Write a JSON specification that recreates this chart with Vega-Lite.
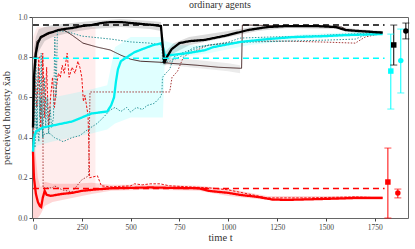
{
"$schema":"https://vega.github.io/schema/vega-lite/v6.json",
"width":376,"height":201,"autosize":{"type":"none"},
"padding":{"left":32,"top":17,"right":7,"bottom":31},
"config":{"view":{"stroke":"#666","strokeWidth":1},"font":"Liberation Serif",
 "axis":{"grid":false,"domain":false,"tickColor":"#444","tickSize":3,"labelFontSize":7.5,"labelColor":"#444","titleFontSize":10.5,"titleFontWeight":"normal","titleColor":"#333","labelFont":"Liberation Serif","titleFont":"Liberation Serif"}},
"title":{"text":"ordinary agents","fontSize":10,"font":"Liberation Serif","fontWeight":"normal","color":"#333","offset":3},
"resolve":{"scale":{"color":"independent","opacity":"independent","strokeWidth":"independent","strokeDash":"independent","shape":"independent"}},
"datasets":{
"bands":[
{"s":"rp","t":0,"lo":0.15,"hi":0.9},{"s":"rp","t":20,"lo":0.15,"hi":0.95},{"s":"rp","t":320,"lo":0.15,"hi":0.95},
{"s":"bg","t":0,"lo":0.3,"hi":0.65},{"s":"bg","t":5,"lo":0.55,"hi":0.85},{"s":"bg","t":15,"lo":0.75,"hi":0.9},{"s":"bg","t":30,"lo":0.83,"hi":0.94},{"s":"bg","t":60,"lo":0.88,"hi":0.95},{"s":"bg","t":100,"lo":0.9,"hi":0.96},{"s":"bg","t":200,"lo":0.925,"hi":0.97},{"s":"bg","t":300,"lo":0.94,"hi":0.98},{"s":"bg","t":450,"lo":0.95,"hi":0.99},{"s":"bg","t":600,"lo":0.94,"hi":0.98},{"s":"bg","t":655,"lo":0.93,"hi":0.975},{"s":"bg","t":668,"lo":0.76,"hi":0.86},{"s":"bg","t":680,"lo":0.76,"hi":0.83},{"s":"bg","t":720,"lo":0.82,"hi":0.87},{"s":"bg","t":800,"lo":0.86,"hi":0.9},{"s":"bg","t":900,"lo":0.88,"hi":0.915},{"s":"bg","t":1000,"lo":0.9,"hi":0.93},{"s":"bg","t":1150,"lo":0.93,"hi":0.955},{"s":"bg","t":1300,"lo":0.945,"hi":0.96},{"s":"bg","t":1550,"lo":0.94,"hi":0.955},{"s":"bg","t":1650,"lo":0.92,"hi":0.94},{"s":"bg","t":1790,"lo":0.915,"hi":0.93},
{"s":"bg2","t":650,"lo":0.765,"hi":0.8},{"s":"bg2","t":800,"lo":0.75,"hi":0.79},{"s":"bg2","t":1000,"lo":0.73,"hi":0.77},{"s":"bg2","t":1060,"lo":0.72,"hi":0.76},
{"s":"cb","t":0,"lo":0.3,"hi":0.55},{"s":"cb","t":20,"lo":0.36,"hi":0.6},{"s":"cb","t":100,"lo":0.38,"hi":0.6},{"s":"cb","t":200,"lo":0.4,"hi":0.62},{"s":"cb","t":300,"lo":0.42,"hi":0.64},{"s":"cb","t":380,"lo":0.44,"hi":0.66},{"s":"cb","t":420,"lo":0.47,"hi":0.85},{"s":"cb","t":500,"lo":0.5,"hi":0.9},{"s":"cb","t":665,"lo":0.5,"hi":0.9},{"s":"cb","t":675,"lo":0.78,"hi":0.88},{"s":"cb","t":750,"lo":0.8,"hi":0.86},{"s":"cb","t":900,"lo":0.82,"hi":0.86},{"s":"cb","t":1100,"lo":0.86,"hi":0.89},{"s":"cb","t":1400,"lo":0.89,"hi":0.915},{"s":"cb","t":1790,"lo":0.91,"hi":0.93},
{"s":"rb","t":0,"lo":0.0,"hi":0.55},{"s":"rb","t":10,"lo":0.0,"hi":0.35},{"s":"rb","t":25,"lo":0.0,"hi":0.2},{"s":"rb","t":40,"lo":0.02,"hi":0.15},{"s":"rb","t":60,"lo":0.06,"hi":0.18},{"s":"rb","t":100,"lo":0.08,"hi":0.17},{"s":"rb","t":200,"lo":0.1,"hi":0.17},{"s":"rb","t":300,"lo":0.12,"hi":0.175},{"s":"rb","t":400,"lo":0.135,"hi":0.165},{"s":"rb","t":600,"lo":0.14,"hi":0.165},{"s":"rb","t":850,"lo":0.135,"hi":0.16},{"s":"rb","t":1000,"lo":0.11,"hi":0.145},{"s":"rb","t":1200,"lo":0.09,"hi":0.11},{"s":"rb","t":1790,"lo":0.09,"hi":0.11}
],
"lines":[
{"s":"rd2","t":0,"v":0.8},{"s":"rd2","t":50,"v":0.8},{"s":"rd2","t":52,"v":0.15},{"s":"rd2","t":100,"v":0.15},{"s":"rd2","t":110,"v":0.16},{"s":"rd2","t":150,"v":0.14},{"s":"rd2","t":200,"v":0.13},{"s":"rd2","t":250,"v":0.19},{"s":"rd2","t":285,"v":0.21},{"s":"rd2","t":292,"v":0.627},{"s":"rd2","t":700,"v":0.627},{"s":"rd2","t":712,"v":0.7},{"s":"rd2","t":740,"v":0.73},{"s":"rd2","t":770,"v":0.8},{"s":"rd2","t":800,"v":0.82},{"s":"rd2","t":850,"v":0.84},{"s":"rd2","t":900,"v":0.86},{"s":"rd2","t":1000,"v":0.87},{"s":"rd2","t":1100,"v":0.88},{"s":"rd2","t":1300,"v":0.88},{"s":"rd2","t":1500,"v":0.875},{"s":"rd2","t":1650,"v":0.87},{"s":"rd2","t":1700,"v":0.9},{"s":"rd2","t":1790,"v":0.92},
{"s":"rd1","t":0,"v":0.3},{"s":"rd1","t":10,"v":0.7},{"s":"rd1","t":20,"v":0.55},{"s":"rd1","t":30,"v":0.8},{"s":"rd1","t":40,"v":0.45},{"s":"rd1","t":50,"v":0.82},{"s":"rd1","t":60,"v":0.5},{"s":"rd1","t":70,"v":0.75},{"s":"rd1","t":80,"v":0.45},{"s":"rd1","t":90,"v":0.6},{"s":"rd1","t":100,"v":0.7},{"s":"rd1","t":110,"v":0.55},{"s":"rd1","t":120,"v":0.65},{"s":"rd1","t":130,"v":0.72},{"s":"rd1","t":140,"v":0.7},{"s":"rd1","t":150,"v":0.76},{"s":"rd1","t":160,"v":0.72},{"s":"rd1","t":175,"v":0.82},{"s":"rd1","t":185,"v":0.7},{"s":"rd1","t":200,"v":0.75},{"s":"rd1","t":215,"v":0.72},{"s":"rd1","t":230,"v":0.78},{"s":"rd1","t":240,"v":0.75},{"s":"rd1","t":250,"v":0.7},{"s":"rd1","t":258,"v":0.58},{"s":"rd1","t":266,"v":0.61},{"s":"rd1","t":282,"v":0.51},{"s":"rd1","t":290,"v":0.2},{"s":"rd1","t":330,"v":0.21},{"s":"rd1","t":350,"v":0.16},{"s":"rd1","t":400,"v":0.155},{"s":"rd1","t":500,"v":0.16},{"s":"rd1","t":520,"v":0.17},{"s":"rd1","t":560,"v":0.165},{"s":"rd1","t":600,"v":0.17},{"s":"rd1","t":650,"v":0.17},{"s":"rd1","t":700,"v":0.16},{"s":"rd1","t":800,"v":0.155},{"s":"rd1","t":900,"v":0.15},{"s":"rd1","t":1000,"v":0.14},{"s":"rd1","t":1100,"v":0.12},{"s":"rd1","t":1200,"v":0.1},{"s":"rd1","t":1400,"v":0.1},{"s":"rd1","t":1650,"v":0.105},{"s":"rd1","t":1790,"v":0.1},
{"s":"cd2","t":0,"v":0.45},{"s":"cd2","t":10,"v":0.35},{"s":"cd2","t":20,"v":0.5},{"s":"cd2","t":30,"v":0.38},{"s":"cd2","t":40,"v":0.6},{"s":"cd2","t":50,"v":0.4},{"s":"cd2","t":60,"v":0.42},{"s":"cd2","t":87,"v":0.42},{"s":"cd2","t":110,"v":0.4},{"s":"cd2","t":154,"v":0.38},{"s":"cd2","t":200,"v":0.4},{"s":"cd2","t":240,"v":0.41},{"s":"cd2","t":280,"v":0.44},{"s":"cd2","t":328,"v":0.47},{"s":"cd2","t":360,"v":0.5},{"s":"cd2","t":395,"v":0.537},{"s":"cd2","t":420,"v":0.55},{"s":"cd2","t":450,"v":0.53},{"s":"cd2","t":480,"v":0.55},{"s":"cd2","t":500,"v":0.527},{"s":"cd2","t":530,"v":0.55},{"s":"cd2","t":560,"v":0.54},{"s":"cd2","t":585,"v":0.56},{"s":"cd2","t":620,"v":0.57},{"s":"cd2","t":651,"v":0.6},{"s":"cd2","t":660,"v":0.62},{"s":"cd2","t":663,"v":0.7},{"s":"cd2","t":680,"v":0.72},{"s":"cd2","t":700,"v":0.74},{"s":"cd2","t":720,"v":0.8},{"s":"cd2","t":760,"v":0.82},{"s":"cd2","t":790,"v":0.83},{"s":"cd2","t":830,"v":0.85},{"s":"cd2","t":900,"v":0.86},{"s":"cd2","t":1000,"v":0.87},{"s":"cd2","t":1100,"v":0.875},{"s":"cd2","t":1300,"v":0.88},{"s":"cd2","t":1500,"v":0.885},{"s":"cd2","t":1650,"v":0.89},{"s":"cd2","t":1700,"v":0.91},{"s":"cd2","t":1790,"v":0.92},
{"s":"cd1","t":0,"v":0.5},{"s":"cd1","t":5,"v":0.7},{"s":"cd1","t":10,"v":0.45},{"s":"cd1","t":15,"v":0.8},{"s":"cd1","t":20,"v":0.42},{"s":"cd1","t":28,"v":0.75},{"s":"cd1","t":35,"v":0.5},{"s":"cd1","t":42,"v":0.82},{"s":"cd1","t":50,"v":0.4},{"s":"cd1","t":58,"v":0.7},{"s":"cd1","t":65,"v":0.45},{"s":"cd1","t":72,"v":0.6},{"s":"cd1","t":80,"v":0.42},{"s":"cd1","t":88,"v":0.55},{"s":"cd1","t":95,"v":0.45},{"s":"cd1","t":105,"v":0.5},{"s":"cd1","t":112,"v":0.9},{"s":"cd1","t":118,"v":0.6},{"s":"cd1","t":125,"v":0.93},{"s":"cd1","t":160,"v":0.93},{"s":"cd1","t":200,"v":0.92},{"s":"cd1","t":250,"v":0.905},{"s":"cd1","t":300,"v":0.9},{"s":"cd1","t":400,"v":0.89},{"s":"cd1","t":500,"v":0.876},{"s":"cd1","t":600,"v":0.87},{"s":"cd1","t":660,"v":0.86},{"s":"cd1","t":664,"v":0.77},{"s":"cd1","t":700,"v":0.78},{"s":"cd1","t":750,"v":0.8},{"s":"cd1","t":800,"v":0.83},{"s":"cd1","t":850,"v":0.85},{"s":"cd1","t":900,"v":0.86},{"s":"cd1","t":1000,"v":0.875},{"s":"cd1","t":1060,"v":0.895},{"s":"cd1","t":1200,"v":0.9},{"s":"cd1","t":1400,"v":0.905},{"s":"cd1","t":1600,"v":0.915},{"s":"cd1","t":1790,"v":0.92},
{"s":"bi","t":0,"v":0.5},{"s":"bi","t":8,"v":0.8},{"s":"bi","t":20,"v":0.88},{"s":"bi","t":50,"v":0.9},{"s":"bi","t":90,"v":0.92},{"s":"bi","t":130,"v":0.935},{"s":"bi","t":150,"v":0.94},{"s":"bi","t":200,"v":0.91},{"s":"bi","t":256,"v":0.87},{"s":"bi","t":330,"v":0.85},{"s":"bi","t":395,"v":0.836},{"s":"bi","t":450,"v":0.81},{"s":"bi","t":500,"v":0.79},{"s":"bi","t":550,"v":0.78},{"s":"bi","t":650,"v":0.775},{"s":"bi","t":700,"v":0.77},{"s":"bi","t":840,"v":0.76},{"s":"bi","t":950,"v":0.75},{"s":"bi","t":1060,"v":0.745},{"s":"bi","t":1068,"v":0.745},{"s":"bi","t":1072,"v":0.96},{"s":"bi","t":1100,"v":0.96},{"s":"bi","t":1300,"v":0.955},{"s":"bi","t":1500,"v":0.955},{"s":"bi","t":1580,"v":0.95},{"s":"bi","t":1610,"v":0.935},{"s":"bi","t":1790,"v":0.925},
{"s":"rm","t":0,"v":0.33},{"s":"rm","t":5,"v":0.2},{"s":"rm","t":15,"v":0.12},{"s":"rm","t":25,"v":0.08},{"s":"rm","t":35,"v":0.06},{"s":"rm","t":42,"v":0.055},{"s":"rm","t":50,"v":0.1},{"s":"rm","t":60,"v":0.135},{"s":"rm","t":70,"v":0.115},{"s":"rm","t":90,"v":0.11},{"s":"rm","t":120,"v":0.115},{"s":"rm","t":150,"v":0.12},{"s":"rm","t":200,"v":0.125},{"s":"rm","t":250,"v":0.135},{"s":"rm","t":300,"v":0.14},{"s":"rm","t":400,"v":0.148},{"s":"rm","t":500,"v":0.15},{"s":"rm","t":600,"v":0.152},{"s":"rm","t":700,"v":0.15},{"s":"rm","t":850,"v":0.148},{"s":"rm","t":900,"v":0.135},{"s":"rm","t":1000,"v":0.125},{"s":"rm","t":1060,"v":0.115},{"s":"rm","t":1150,"v":0.105},{"s":"rm","t":1225,"v":0.092},{"s":"rm","t":1300,"v":0.09},{"s":"rm","t":1500,"v":0.095},{"s":"rm","t":1650,"v":0.1},{"s":"rm","t":1790,"v":0.1},
{"s":"cm","t":0,"v":0.33},{"s":"cm","t":5,"v":0.4},{"s":"cm","t":15,"v":0.43},{"s":"cm","t":50,"v":0.45},{"s":"cm","t":100,"v":0.46},{"s":"cm","t":150,"v":0.47},{"s":"cm","t":200,"v":0.48},{"s":"cm","t":300,"v":0.52},{"s":"cm","t":380,"v":0.53},{"s":"cm","t":400,"v":0.56},{"s":"cm","t":415,"v":0.6},{"s":"cm","t":425,"v":0.68},{"s":"cm","t":435,"v":0.74},{"s":"cm","t":450,"v":0.78},{"s":"cm","t":480,"v":0.8},{"s":"cm","t":520,"v":0.825},{"s":"cm","t":560,"v":0.84},{"s":"cm","t":615,"v":0.86},{"s":"cm","t":660,"v":0.87},{"s":"cm","t":675,"v":0.81},{"s":"cm","t":700,"v":0.81},{"s":"cm","t":790,"v":0.82},{"s":"cm","t":880,"v":0.835},{"s":"cm","t":923,"v":0.85},{"s":"cm","t":1062,"v":0.876},{"s":"cm","t":1200,"v":0.89},{"s":"cm","t":1330,"v":0.9},{"s":"cm","t":1500,"v":0.905},{"s":"cm","t":1600,"v":0.91},{"s":"cm","t":1790,"v":0.915},
{"s":"bm","t":0,"v":0.45},{"s":"bm","t":5,"v":0.7},{"s":"bm","t":15,"v":0.82},{"s":"bm","t":25,"v":0.87},{"s":"bm","t":40,"v":0.9},{"s":"bm","t":60,"v":0.91},{"s":"bm","t":80,"v":0.92},{"s":"bm","t":100,"v":0.925},{"s":"bm","t":130,"v":0.935},{"s":"bm","t":160,"v":0.94},{"s":"bm","t":200,"v":0.945},{"s":"bm","t":250,"v":0.955},{"s":"bm","t":300,"v":0.96},{"s":"bm","t":350,"v":0.97},{"s":"bm","t":400,"v":0.975},{"s":"bm","t":450,"v":0.975},{"s":"bm","t":500,"v":0.97},{"s":"bm","t":560,"v":0.965},{"s":"bm","t":620,"v":0.96},{"s":"bm","t":655,"v":0.955},{"s":"bm","t":665,"v":0.85},{"s":"bm","t":672,"v":0.77},{"s":"bm","t":685,"v":0.8},{"s":"bm","t":710,"v":0.84},{"s":"bm","t":750,"v":0.87},{"s":"bm","t":800,"v":0.88},{"s":"bm","t":880,"v":0.886},{"s":"bm","t":1000,"v":0.91},{"s":"bm","t":1100,"v":0.935},{"s":"bm","t":1200,"v":0.95},{"s":"bm","t":1300,"v":0.955},{"s":"bm","t":1450,"v":0.955},{"s":"bm","t":1550,"v":0.95},{"s":"bm","t":1600,"v":0.935},{"s":"bm","t":1700,"v":0.928},{"s":"bm","t":1790,"v":0.922}
],
"ref":[
{"s":"black","t":0,"v":0.96},{"s":"black","t":1800,"v":0.96},
{"s":"cyan","t":0,"v":0.795},{"s":"cyan","t":1800,"v":0.795},
{"s":"red","t":0,"v":0.147},{"s":"red","t":1800,"v":0.147}
],
"err":[
{"c":"black","m":"square","t":1847,"v":0.861,"lo":0.761,"hi":0.96},
{"c":"black","m":"circle","t":1909,"v":0.93,"lo":0.891,"hi":0.97},
{"c":"cyan","m":"square","t":1832,"v":0.731,"lo":0.542,"hi":0.915},
{"c":"cyan","m":"circle","t":1883,"v":0.783,"lo":0.622,"hi":0.94},
{"c":"red","m":"square","t":1817,"v":0.179,"lo":0.0,"hi":0.348},
{"c":"red","m":"circle","t":1868,"v":0.124,"lo":0.1,"hi":0.144}
]
},
"layer":[
{"data":{"name":"bands"},"mark":{"type":"area","interpolate":"linear"},
 "encoding":{
  "x":{"field":"t","type":"quantitative","scale":{"domain":[-5,1920],"nice":false,"zero":false},"axis":{"values":[0,250,500,750,1000,1250,1500,1750],"format":"d","title":"time t","titlePadding":2,"labelPadding":2}},
  "y":{"field":"lo","type":"quantitative","scale":{"domain":[0,1],"nice":false},"axis":{"values":[0,0.2,0.4,0.6,0.8,1.0],"format":".1f","title":"perceived honesty x̄ab","titlePadding":6,"labelPadding":2}},
  "y2":{"field":"hi"},
  "color":{"field":"s","type":"nominal","scale":{"domain":["rp","bg","bg2","cb","rb"],"range":["#ff0000","#888888","#999999","#00ffff","#ff0000"]},"legend":null},
  "opacity":{"field":"s","type":"nominal","scale":{"type":"ordinal","domain":["rp","bg","bg2","cb","rb"],"range":[0.07,0.3,0.2,0.12,0.16]},"legend":null}
 }},
{"data":{"name":"lines"},"mark":{"type":"line","interpolate":"linear"},
 "encoding":{
  "x":{"field":"t","type":"quantitative"},
  "y":{"field":"v","type":"quantitative"},
  "color":{"field":"s","type":"nominal","scale":{"domain":["rd2","rd1","cd2","cd1","bi","rm","cm","bm"],"range":["#9b2222","#ee1111","#178a90","#178a90","#3a1818","#ff0000","#00f0f0","#000000"]},"legend":null},
  "strokeWidth":{"field":"s","type":"nominal","scale":{"type":"ordinal","domain":["rd2","rd1","cd2","cd1","bi","rm","cm","bm"],"range":[0.9,1,0.9,0.9,0.9,2.3,2.3,2.3]},"legend":null},
  "strokeDash":{"field":"s","type":"nominal","scale":{"domain":["rd2","rd1","cd2","cd1","bi","rm","cm","bm"],"range":[[1.5,1.5],[2.5,1.5],[1.5,1.5],[1.5,1.5],[1,0],[1,0],[1,0],[1,0]]},"legend":null},
  "order":{"field":"t","type":"quantitative"}
 }},
{"data":{"name":"ref"},"mark":{"type":"line","strokeWidth":1.5,"strokeDash":[6,4]},
 "encoding":{
  "x":{"field":"t","type":"quantitative"},
  "y":{"field":"v","type":"quantitative"},
  "color":{"field":"s","type":"nominal","scale":null}
 }},
{"data":{"name":"err"},"mark":{"type":"rule","strokeWidth":1},
 "encoding":{
  "x":{"field":"t","type":"quantitative"},
  "y":{"field":"lo","type":"quantitative"},
  "y2":{"field":"hi"},
  "color":{"field":"c","type":"nominal","scale":null}
 }},
{"data":{"name":"err"},"mark":{"type":"tick","orient":"horizontal","size":7,"thickness":1},
 "encoding":{
  "x":{"field":"t","type":"quantitative"},
  "y":{"field":"lo","type":"quantitative"},
  "color":{"field":"c","type":"nominal","scale":null}
 }},
{"data":{"name":"err"},"mark":{"type":"tick","orient":"horizontal","size":7,"thickness":1},
 "encoding":{
  "x":{"field":"t","type":"quantitative"},
  "y":{"field":"hi","type":"quantitative"},
  "color":{"field":"c","type":"nominal","scale":null}
 }},
{"data":{"name":"err"},"mark":{"type":"point","filled":true,"size":30,"opacity":1},
 "encoding":{
  "x":{"field":"t","type":"quantitative"},
  "y":{"field":"v","type":"quantitative"},
  "color":{"field":"c","type":"nominal","scale":null},
  "shape":{"field":"m","type":"nominal","scale":null}
 }}
]
}
